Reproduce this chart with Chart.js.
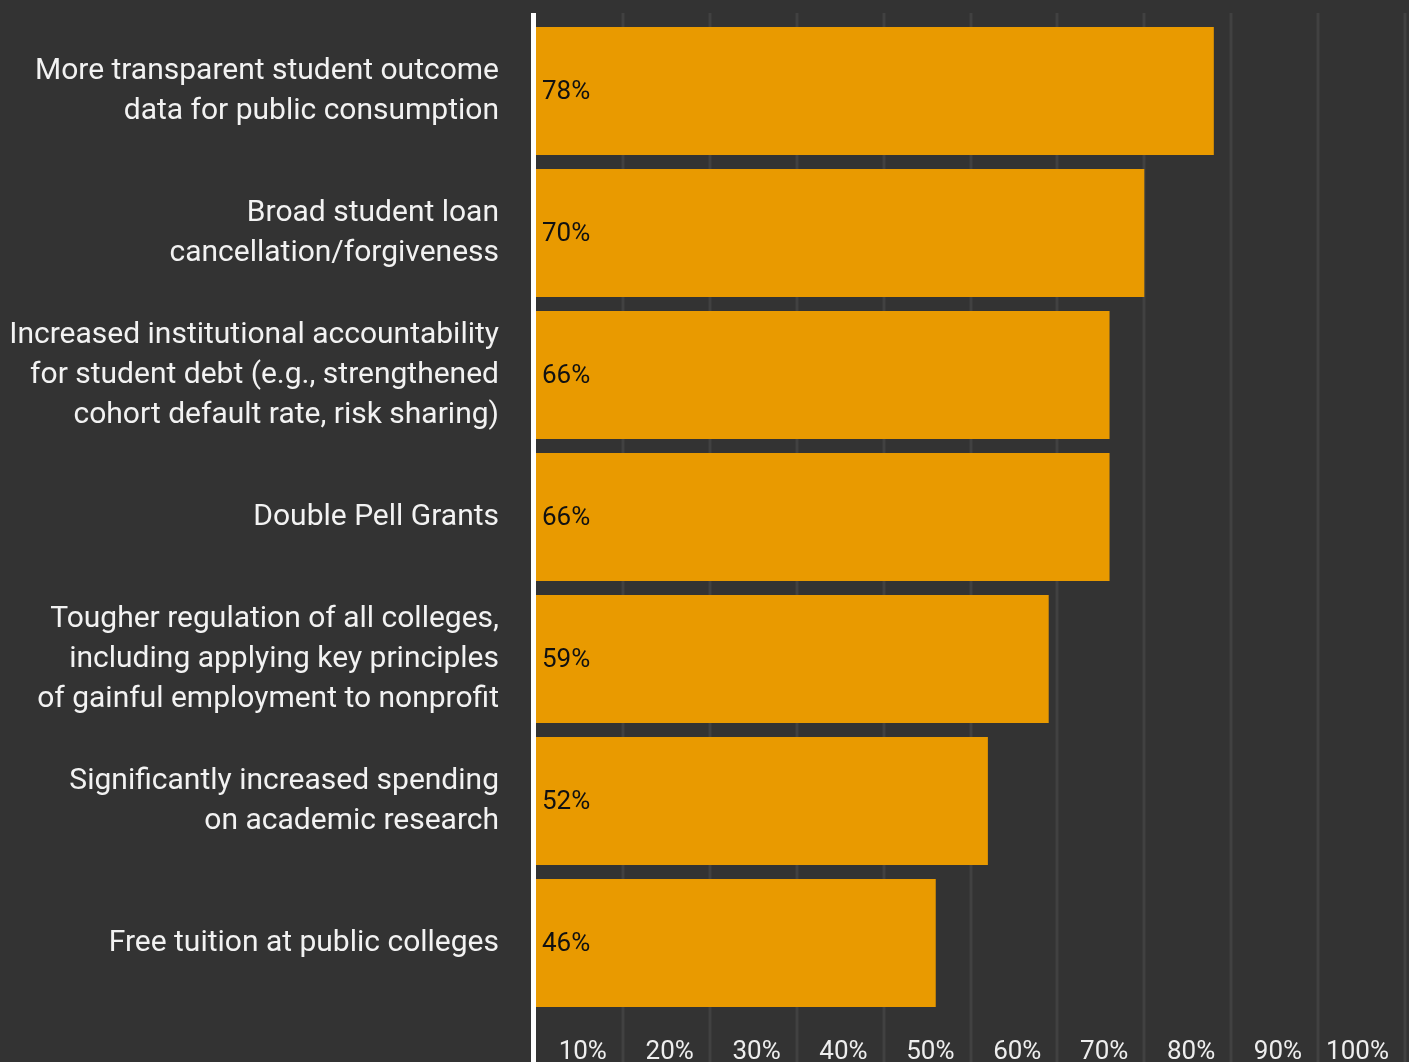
<!DOCTYPE html>
<html>
<head>
<meta charset="utf-8">
<script src="https://cdn.jsdelivr.net/npm/chart.js@4"></script>
<style>
  html, body { margin: 0; padding: 0; background: #333333; overflow: hidden; }
  #wrap { width: 1409px; height: 1062px; }
</style>
</head>
<body>
<div id="wrap"><canvas id="chartBar" width="1409" height="1062"></canvas></div>
<script>
let categories = [
  ["More transparent student outcome", "data for public consumption"],
  ["Broad student loan", "cancellation/forgiveness"],
  ["Increased institutional accountability", "for student debt (e.g., strengthened", "cohort default rate, risk sharing)"],
  ["Double Pell Grants"],
  ["Tougher regulation of all colleges,", "including applying key principles", "of gainful employment to nonprofit"],
  ["Significantly increased spending", "on academic research"],
  ["Free tuition at public colleges"],
];
let values = [78, 70, 66, 66, 59, 52, 46];
let tickValues = [0, 10, 20, 30, 40, 50, 60, 70, 80, 90, 100];
let tickLabels = ["", "10%", "20%", "30%", "40%", "50%", "60%", "70%", "80%", "90%", "100%"];

// gridlines + white axis line, drawn full height like the original
let backLines = {
  id: "backLines",
  beforeDatasetsDraw(chart) {
    let ctx = chart.ctx;
    let xScale = chart.scales.x;
    let area = chart.chartArea;
    ctx.save();
    ctx.fillStyle = "#414141";
    tickValues.forEach((v) => {
      if (v === 0) return;
      let px = xScale.getPixelForValue(v);
      ctx.fillRect(Math.round(px) - 1.5, 13, 3, chart.height - 13);
    });
    ctx.fillStyle = "#ffffff";
    ctx.fillRect(area.left - 5, 13, 5, chart.height - 13);
    ctx.restore();
  },
};

let valueLabels = {
  id: "valueLabels",
  afterDatasetsDraw(chart) {
    let ctx = chart.ctx;
    let meta = chart.getDatasetMeta(0);
    ctx.save();
    ctx.font = "26px Roboto";
    ctx.fillStyle = "#111111";
    ctx.textAlign = "left";
    ctx.textBaseline = "middle";
    meta.data.forEach((bar, i) => {
      ctx.fillText(values[i] + "%", bar.base + 6, bar.y + 1);
    });
    ctx.restore();
  },
};

let dataBar = {
  labels: categories,
  datasets: [
    {
      label: "Share",
      data: values,
      backgroundColor: "#E99A00",
      borderWidth: 0,
      barPercentage: 0.9,
      categoryPercentage: 1.0,
    },
  ],
};

let configBar = {
  type: "bar",
  data: dataBar,
  options: {
    indexAxis: "y",
    responsive: false,
    devicePixelRatio: 1,
    animation: false,
    layout: { padding: { top: 20, right: 4, left: 0, bottom: 0 } },
    plugins: {
      legend: { display: false },
      tooltip: { enabled: false },
    },
    scales: {
      x: {
        min: 0,
        max: 100,
        grid: { display: false, drawTicks: false },
        border: { display: false },
        afterBuildTicks(scale) {
          scale.ticks = tickValues.map((v) => ({ value: v }));
        },
        afterFit(scale) {
          scale.paddingLeft = 0;
          scale.paddingRight = 0;
          scale.height = 48;
        },
        ticks: {
          callback: (v, i) => tickLabels[i],
          align: "end",
          labelOffset: -16,
          padding: 23,
          maxRotation: 0,
          autoSkip: false,
          color: "#eeeeee",
          font: { family: "Roboto", size: 26 },
        },
      },
      y: {
        grid: { display: false, drawTicks: false },
        border: { display: false },
        afterFit(scale) {
          scale.width = 536;
          scale.paddingTop = 0;
          scale.paddingBottom = 0;
        },
        ticks: {
          padding: 37,
          color: "#f2f2f2",
          font: { family: "Roboto", size: 30, lineHeight: "40px" },
        },
      },
    },
  },
  plugins: [backLines, valueLabels],
};

let chartBar = new Chart(document.getElementById("chartBar"), configBar);
</script>
</body>
</html>
